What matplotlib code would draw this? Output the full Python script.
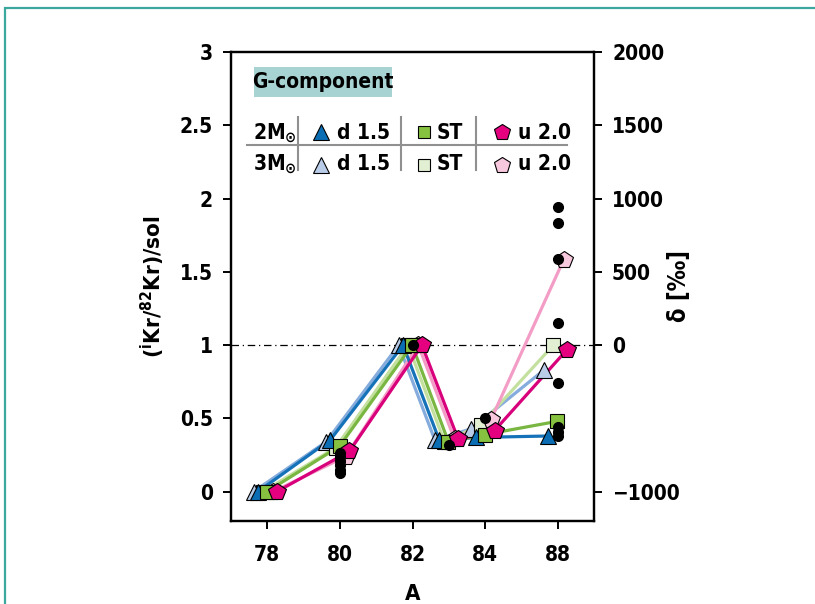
import matplotlib
matplotlib.use("Agg")
import matplotlib.pyplot as plt
from matplotlib.patches import Rectangle

# fuente estrecha y negrita, parecida a la del original
plt.rcParams['font.family'] = ['DejaVu Sans']
plt.rcParams['font.stretch'] = 'condensed'
plt.rcParams['font.weight'] = 'bold'
plt.rcParams['axes.labelweight'] = 'bold'
plt.rcParams['mathtext.default'] = 'regular'

# DATOS
masas = [78, 80, 82, 83, 84, 86]
tick_pos = [78, 80, 82, 84, 86]
tick_lab = ["78", "80", "82", "84", "88"]

d15_2M = [0.0, 0.355, 1.0, 0.35, 0.37, 0.38]
d15_3M = [0.0, 0.34, 1.0, 0.35, 0.43, 0.83]
st_2M = [0.0, 0.31, 1.0, 0.34, 0.39, 0.48]
st_3M = [0.0, 0.30, 1.0, 0.34, 0.456, 1.0]
u20_2M = [0.0, 0.275, 1.0, 0.357, 0.417, 0.97]
u20_3M = [0.0, 0.24, 1.0, 0.357, 0.49, 1.58]

# medidas (puntos negros)
med_x = [80, 80, 80, 80, 80, 80, 82, 83, 84, 86, 86, 86, 86, 86, 86, 86, 86]
med_y = [0.265, 0.24, 0.21, 0.18, 0.15, 0.125, 1.0, 0.32, 0.5,
         1.94, 1.83, 1.59, 1.15, 0.74, 0.44, 0.41, 0.38]

# series: (valores, desplazamiento en x, marcador, color linea, color relleno, tamano)
series = [
    (d15_3M, -0.38, "^", "#85acdc", "#b9cce8", 12),
    (st_3M, -0.12, "s", "#c3e09e", "#e2efd3", 10),
    (u20_3M, 0.16, "p", "#f39cc6", "#f8c8de", 13),
    (d15_2M, -0.26, "^", "#1572b8", "#0b6db3", 12),
    (st_2M, -0.01, "s", "#79b642", "#86c23f", 10),
    (u20_2M, 0.26, "p", "#d8007b", "#e4007f", 13),
]

fig = plt.figure(figsize=(8.15, 6.04), dpi=100)
ax = fig.add_axes([231/815, 83/604, 363/815, 469/604])

for vals, dx, mk, cl, cf, ms in series:
    xs = [m + dx for m in masas]
    ax.plot(xs, vals, "-", color=cl, lw=2.3, zorder=2)
    ax.plot(xs, vals, mk, mfc=cf, mec="black", mew=0.8, ms=ms, ls="none", zorder=3)

ax.plot(med_x, med_y, "o", color="black", ms=7, ls="none", zorder=4)
ax.axhline(1.0, color="black", lw=0.9, ls=(0, (6, 3, 1, 3)), zorder=1)

ax.set_xlim(77, 87)
ax.set_ylim(-0.2, 3)
ax.set_xticks(tick_pos)
ax.set_xticklabels(tick_lab)
ax.set_yticks([0, 0.5, 1, 1.5, 2, 2.5, 3])
ax.set_yticklabels(["0", "0.5", "1", "1.5", "2", "2.5", "3"])
ax.tick_params(direction="out", length=6, width=1.4, labelsize=15, pad=7)
ax.tick_params(axis="x", pad=11)
for s in ax.spines.values():
    s.set_linewidth(1.6)
ax.set_xlabel("A", fontsize=16)
ax.xaxis.set_label_coords(0.5, -0.134)
ax.set_ylabel(r"($^{\mathbf{i}}$Kr/$^{\mathbf{82}}$Kr)/sol", fontsize=16)
ax.yaxis.set_label_coords(-0.175, 0.5)

# eje derecho en permil
ax2 = ax.twinx()
ax2.set_ylim(-1200, 2000)
ax2.set_yticks([-1000, 0, 500, 1000, 1500, 2000])
ax2.tick_params(direction="out", length=6, width=1.4, labelsize=15, pad=7)
ax2.set_ylabel("δ [‰]", fontsize=17)
ax2.yaxis.set_label_coords(1.2, 0.5)
for s in ax2.spines.values():
    s.set_linewidth(1.6)

# leyenda hecha a mano (tabla)
tr = ax.transAxes
ax.add_patch(Rectangle((0.0634, 0.9047), 0.3793, 0.0627, transform=tr,
                       facecolor="#a7d4d2", edgecolor="none", zorder=5))
ax.text(0.253, 0.936, "G-component", transform=tr, ha="center", va="center",
        fontsize=15, zorder=6)

ax.plot([0.044, 0.9256], [0.8017, 0.8017], color="#909090", lw=1.5,
        transform=tr, clip_on=False, zorder=5)
for xv in [0.1854, 0.4675, 0.675]:
    ax.plot([xv, xv], [0.7484, 0.8614], color="#909090", lw=1.5,
            transform=tr, clip_on=False, zorder=5)

filas = [("2M", 0.8145, 0.8294, series[3:]), ("3M", 0.7484, 0.759, series[:3])]
etiquetas = ["d 1.5", "ST", "u 2.0"]
xmark = [0.2471, 0.5325, 0.7457]
xtext = [0.2912, 0.5664, 0.7915]
for nombre, ybase, ymk, sers in filas:
    ax.text(0.0606, ybase, nombre + r"$_{\odot}$", transform=tr, ha="left",
            va="baseline", fontsize=15, zorder=6)
    # orden de sers: d 1.5, ST, u 2.0
    for k in range(3):
        vals, dx, mk, cl, cf, ms = sers[k]
        ax.plot([xmark[k]], [ymk], mk, mfc=cf, mec="black", mew=0.8, ms=ms - 1,
                transform=tr, clip_on=False, zorder=6)
        ax.text(xtext[k], ybase, etiquetas[k], transform=tr, ha="left",
                va="baseline", fontsize=15, zorder=6)

# marco verde azulado de la figura
fig.patches.append(Rectangle((5/815, -0.05), 1.1, 596/604 + 0.05, transform=fig.transFigure,
                             fill=False, edgecolor="#3aa89c", lw=1.6))

plt.savefig("out.png", dpi=100)
